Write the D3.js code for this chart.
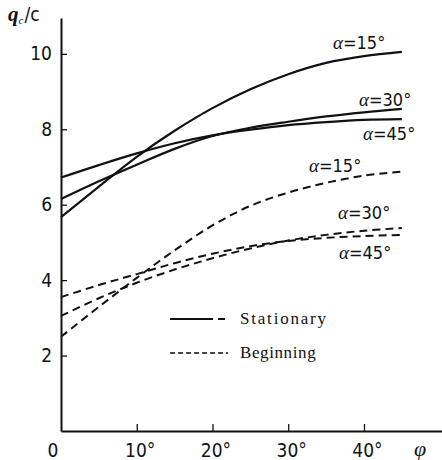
<!DOCTYPE html>
<html>
<head>
<meta charset="utf-8">
<script src="https://cdn.jsdelivr.net/npm/d3@7"></script>
<style>
body{margin:0;background:#fff}
.num{font-family:'Liberation Sans Narrow','DejaVu Sans Condensed','Liberation Sans',sans-serif;font-stretch:condensed}
.ser{font-family:'Liberation Serif','DejaVu Serif',serif}
</style>
</head>
<body>
<div id="root"></div>
<script>
// readings: q_c/c against phi (deg)
var phi=[0,5,10,15,20,25,30,35,40,45];

var stat15=[5.67,6.48,7.27,7.96,8.56,9.06,9.46,9.76,9.94,10.05];
var stat30=[6.15,6.62,7.06,7.48,7.82,8.04,8.2,8.34,8.45,8.54];
var stat45=[6.72,7.05,7.36,7.63,7.84,7.99,8.11,8.19,8.25,8.27];

var beg15=[2.5,3.29,4.06,4.79,5.45,5.97,6.32,6.58,6.77,6.88];
var beg30=[3.05,3.52,3.93,4.28,4.58,4.84,5.05,5.2,5.31,5.38];
var beg45=[3.55,3.87,4.16,4.45,4.7,4.9,5.04,5.12,5.17,5.2];

var xTicks=[10,20,30,40];
var yTicks=[2,4,6,8,10];

var series=[
	{name:'15',vals:stat15,dash:null,lab:[333,49]},
	{name:'30',vals:stat30,dash:null,lab:[359,106]},
	{name:'45',vals:stat45,dash:null,lab:[363,140]},
	{name:'15',vals:beg15,dash:'8,5',lab:[309,172]},
	{name:'30',vals:beg30,dash:'8,5',lab:[338,219]},
	{name:'45',vals:beg45,dash:'8,5',lab:[339,259]}
];

var W=442,H=460;
var svg=d3.select('#root').append('svg').attr('width',W).attr('height',H);

var x=d3.scaleLinear().domain([0,50.3]).range([61,442]);
var y=d3.scaleLinear().domain([0,10.95]).range([431,18]);

var xAxis=d3.axisBottom(x).tickValues(xTicks).tickSizeInner(-7).tickSizeOuter(0).tickPadding(13)
	.tickFormat(function(d){return d+'°'});
var yAxis=d3.axisLeft(y).tickValues(yTicks).tickSizeInner(-6).tickSizeOuter(0).tickPadding(9);

var gx=svg.append('g').attr('transform','translate(0,431)').call(xAxis);
var gy=svg.append('g').attr('transform','translate(61,0)').call(yAxis);

[gx,gy].forEach(function(g){
	g.select('.domain').attr('stroke','#111').attr('stroke-width',2);
	g.selectAll('.tick line').attr('stroke','#111').attr('stroke-width',1.3);
	g.selectAll('.tick text').attr('class','num').attr('font-size',19).attr('fill','#111');
});
gx.selectAll('.tick text').attr('dx',3);

svg.append('text').attr('class','num').attr('x',x(0)-8).attr('y',457).attr('text-anchor','middle')
	.attr('font-size',19).attr('fill','#111').text('0');

// axis titles
var yt=svg.append('text').attr('x',8).attr('y',21).attr('fill','#111');
yt.append('tspan').attr('class','ser').attr('font-style','italic').attr('font-weight','bold').attr('font-size',21).text('q');
yt.append('tspan').attr('class','ser').attr('font-style','italic').attr('font-size',11).attr('dy',3).text('c');
yt.append('tspan').attr('class','num').attr('font-size',19).attr('dy',-3).attr('dx',1).text('/c');

svg.append('text').attr('class','ser').attr('x',414).attr('y',456).attr('font-style','italic')
	.attr('font-size',22).attr('fill','#111').text('φ');

var line=d3.line()
	.x(function(d,i){return x(phi[i])})
	.y(function(d){return y(d)})
	.curve(d3.curveCatmullRom);

svg.selectAll('.curve').data(series).enter().append('path').attr('class','curve')
	.attr('d',function(d){return line(d.vals)})
	.attr('fill','none').attr('stroke','#111')
	.attr('stroke-width',function(d){return d.dash?2:2.2})
	.attr('stroke-dasharray',function(d){return d.dash});

var labs=svg.selectAll('.clab').data(series).enter().append('text').attr('class','clab')
	.attr('x',function(d){return d.lab[0]}).attr('y',function(d){return d.lab[1]}).attr('fill','#111');
labs.append('tspan').attr('class','ser').attr('font-style','italic').attr('font-size',19).text('α');
labs.append('tspan').attr('class','num').attr('font-size',18).text(function(d){return '='+d.name+'°'});

// legend
var leg=[{t:'Stationary',dash:'43,5,7',sp:1.8,y:319},{t:'Beginning',dash:'5,3',sp:0.6,y:353}];
var lg=svg.selectAll('.leg').data(leg).enter().append('g').attr('class','leg');
lg.append('line').attr('x1',170).attr('x2',228).attr('y1',function(d){return d.y}).attr('y2',function(d){return d.y})
	.attr('stroke','#111').attr('stroke-width',function(d,i){return i?1.5:2}).attr('stroke-dasharray',function(d){return d.dash});
lg.append('text').attr('class','ser').attr('x',240).attr('y',function(d){return d.y+5})
	.attr('font-size',17).attr('letter-spacing',function(d){return d.sp}).attr('fill','#111')
	.text(function(d){return d.t});
</script>
</body>
</html>
